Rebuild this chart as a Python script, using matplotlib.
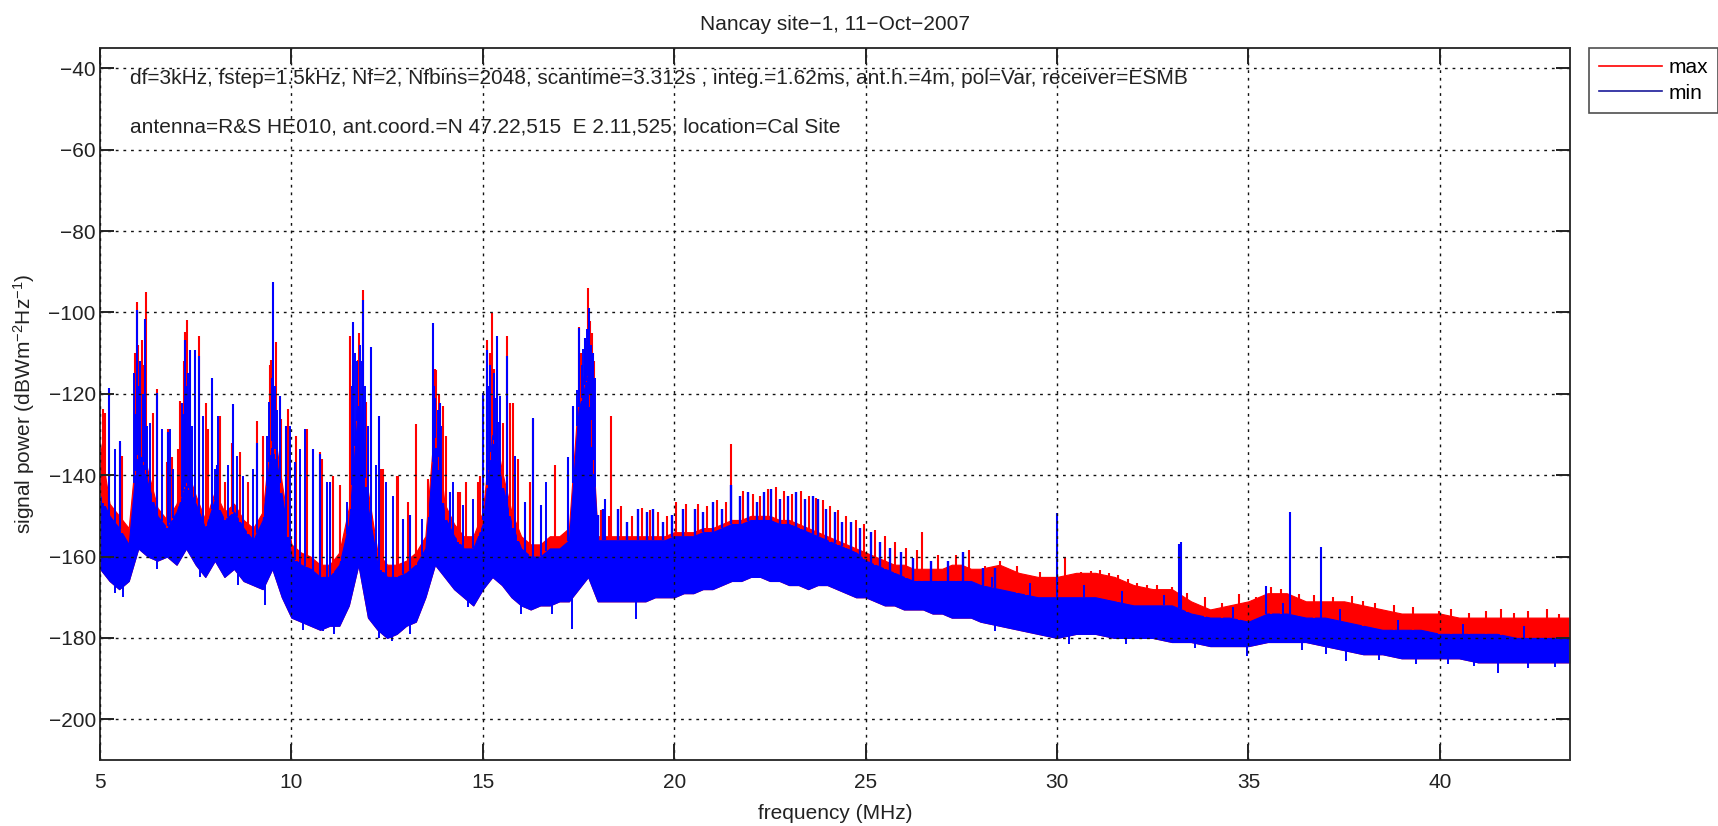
import numpy as np
import matplotlib
matplotlib.use("Agg")
import matplotlib.pyplot as plt
from matplotlib.lines import Line2D

plt.rcParams['font.family'] = ['Liberation Sans', 'DejaVu Sans']
plt.rcParams['font.size'] = 15
plt.rcParams['mathtext.default'] = 'regular'

# ---------------- data ----------------
freq = [5.00, 5.25, 5.50, 5.75, 6.00, 6.25, 6.50, 6.75, 7.00, 7.25,
        7.50, 7.75, 8.00, 8.25, 8.50, 8.75, 9.00, 9.25, 9.50, 9.75,
        10.00, 10.25, 10.50, 10.75, 11.00, 11.25, 11.50, 11.75, 12.00, 12.25,
        12.50, 12.75, 13.00, 13.25, 13.50, 13.75, 14.00, 14.25, 14.50, 14.75,
        15.00, 15.25, 15.50, 15.75, 16.00, 16.25, 16.50, 16.75, 17.00, 17.25,
        17.50, 17.75, 18.00, 18.25, 18.50, 18.75, 19.00, 19.25, 19.50, 19.75,
        20.00, 20.25, 20.50, 20.75, 21.00, 21.25, 21.50, 21.75, 22.00, 22.25,
        22.50, 22.75, 23.00, 23.25, 23.50, 23.75, 24.00, 24.25, 24.50, 24.75,
        25.00, 25.25, 25.50, 25.75, 26.00, 26.25, 26.50, 26.75, 27.00, 27.25,
        27.50, 27.75, 28.00,
        28.5, 29.0, 29.5, 30.0, 30.5, 31.0, 31.5, 32.0, 32.5, 33.0,
        33.5, 34.0, 34.5, 35.0, 35.5, 36.0, 36.5, 37.0, 37.5, 38.0,
        38.5, 39.0, 39.5, 40.0, 40.5, 41.0, 41.5, 42.0, 42.5, 43.0,
        43.4]

# upper envelope of the "max" trace
max_upper = [-132, -147, -150, -153, -128, -139, -148, -151, -147, -138,
             -145, -151, -144, -149, -147, -151, -153, -149, -126, -142,
             -157, -159, -160, -162, -162, -159, -148, -118, -144, -159,
             -162, -162, -161, -159, -155, -126, -147, -152, -155, -155,
             -149, -126, -139, -149, -155, -157, -157, -155, -155, -153,
             -120, -112, -155, -155, -155, -155, -155, -155, -155, -155,
             -154, -154, -154, -153, -153, -152, -151, -151, -150, -150,
             -150, -151, -151, -152, -153, -154, -155, -156, -157, -158,
             -159, -160, -161, -162, -162, -163, -163, -163, -163, -162,
             -162, -163, -163,
             -162, -164, -165, -165, -164, -164, -165, -167, -168, -168,
             -171, -173, -172, -171, -169, -169, -171, -171, -171, -172,
             -173, -174, -174, -174, -175, -175, -175, -175, -175, -175,
             -175]

# upper and lower envelope of the "min" trace
min_upper = [-145, -150, -153, -157, -132, -142, -150, -153, -149, -142,
             -147, -153, -146, -151, -149, -153, -156, -151, -130, -145,
             -160, -162, -163, -165, -165, -162, -152, -122, -148, -162,
             -165, -165, -164, -162, -158, -130, -150, -155, -158, -158,
             -152, -130, -142, -152, -158, -160, -160, -158, -158, -156,
             -124, -115, -156, -156, -156, -156, -156, -156, -156, -156,
             -155, -155, -155, -154, -154, -153, -152, -152, -151, -151,
             -151, -152, -152, -153, -154, -155, -156, -157, -158, -159,
             -161, -162, -163, -164, -165, -166, -166, -166, -166, -166,
             -166, -166, -167,
             -168, -169, -170, -170, -170, -170, -171, -172, -172, -172,
             -174, -175, -175, -176, -174, -174, -175, -175, -176, -177,
             -178, -178, -178, -179, -179, -179, -179, -180, -180, -180,
             -180]

min_lower = [-163, -166, -168, -166, -158, -160, -161, -160, -162, -158,
             -162, -165, -161, -165, -163, -166, -167, -168, -163, -170,
             -175, -176, -177, -178, -177, -177, -172, -162, -175, -178,
             -180, -179, -177, -176, -170, -162, -165, -168, -170, -172,
             -168, -165, -167, -170, -172, -173, -172, -172, -171, -171,
             -168, -165, -171, -171, -171, -171, -171, -171, -170, -170,
             -170, -169, -169, -168, -168, -167, -166, -166, -165, -165,
             -166, -166, -167, -167, -168, -167, -167, -168, -169, -170,
             -170, -171, -172, -172, -173, -173, -173, -174, -174, -175,
             -175, -175, -176,
             -177, -178, -179, -180, -179, -179, -180, -180, -180, -181,
             -181, -182, -182, -182, -181, -181, -181, -182, -183, -184,
             -184, -185, -185, -185, -185, -186, -186, -186, -186, -186,
             -186]

# strong carriers in the "max" trace
max_spike_f = [5.09, 5.52, 5.96, 6.09, 6.19, 6.39, 6.50, 6.78, 6.87, 7.09,
               7.22, 7.28, 7.59, 7.77, 8.13, 8.66, 9.09, 9.26, 9.46, 9.60,
               9.92, 10.40, 10.74, 11.27, 11.53, 11.75, 11.88, 12.40, 12.75, 13.25,
               13.57, 13.79, 13.96, 14.40, 14.92, 15.10, 15.25, 15.64, 15.79, 16.30,
               16.88, 17.52, 17.75, 17.86, 18.36, 21.49, 26.48, 30.22]
max_spike_db = [-123.8, -132.0, -97.4, -106.7, -95.0, -124.6, -118.9, -128.7, -135.6, -121.8,
                -104.7, -101.9, -105.9, -122.2, -125.4, -134.4, -126.7, -130.3, -111.6, -107.2,
                -123.8, -128.7, -134.4, -142.5, -105.9, -111.6, -94.6, -138.5, -140.1, -127.5,
                -140.9, -114.1, -123.0, -144.1, -140.1, -106.7, -100.2, -105.9, -122.2, -126.3,
                -137.6, -103.5, -94.1, -105.1, -125.4, -132.4, -153.9, -160.0]

# smaller peaks of the "max" trace
max_fine_f = [5.13, 5.57, 5.92, 6.00, 6.14, 6.74, 7.05, 7.20, 7.33, 7.83,
              8.26, 8.44, 8.87, 9.44, 9.58, 9.74, 10.13, 10.79, 11.09, 11.62,
              11.76, 11.95, 12.35, 12.79, 13.05, 13.74, 13.86, 14.05, 14.36, 14.57,
              14.88, 15.18, 15.30, 15.53, 15.70, 15.92, 16.23, 17.56, 17.69, 17.80,
              17.90,
              18.08, 18.30, 18.62, 18.90, 19.15, 19.38, 19.58, 19.82, 20.05, 20.30,
              20.62, 20.86, 21.12, 21.36, 21.80, 22.05, 22.25, 22.44, 22.65, 22.86,
              23.08, 23.30, 23.52, 23.70, 23.88, 24.08, 24.28, 24.50, 24.74, 24.95,
              25.25, 25.50, 25.78, 26.05, 26.35, 26.90, 27.35, 27.70, 28.13, 28.52,
              28.96, 29.20, 29.55, 29.90, 30.63, 30.90, 31.12, 31.35, 31.60, 31.85,
              32.10, 32.35, 32.60, 33.00, 33.40, 33.87, 34.30, 34.76, 35.20, 35.60,
              35.84, 36.33, 36.70, 37.20, 37.70, 38.00, 38.30, 38.80, 39.30, 39.97,
              40.30, 40.75, 41.20, 41.60, 41.93, 42.30, 42.80, 43.10]
max_fine_db = [-124.6, -135.2, -110.0, -108.0, -113.0, -136.8, -133.6, -112.0, -120.0, -128.7,
               -141.7, -132.0, -141.7, -113.0, -120.0, -126.3, -130.3, -136.0, -140.1, -113.0,
               -105.0, -122.0, -138.5, -140.1, -146.6, -114.0, -120.0, -130.3, -144.1, -141.7,
               -141.7, -110.0, -114.0, -127.1, -122.2, -136.0, -141.7, -110.0, -107.0, -102.0,
               -112.0,
               -148.5, -150.0, -147.5, -150.0, -148.0, -148.5, -149.0, -150.0, -146.5, -147.0,
               -147.0, -147.5, -146.0, -146.5, -144.0, -144.5, -145.0, -143.5, -143.0, -144.0,
               -144.5, -144.0, -145.0, -145.5, -146.0, -147.5, -148.5, -150.0, -151.0, -152.0,
               -153.5, -155.0, -156.5, -158.0, -158.5, -159.5, -159.5, -158.5, -162.4, -161.2,
               -162.4, -164.5, -163.7, -165.0, -163.7, -163.5, -163.3, -164.0, -164.5, -165.5,
               -166.5, -167.0, -166.9, -167.5, -169.0, -170.0, -171.5, -169.3, -170.0, -167.5,
               -168.0, -169.3, -169.5, -170.0, -169.8, -171.0, -171.4, -172.0, -172.5, -173.4,
               -173.0, -173.8, -173.5, -173.0, -173.8, -173.5, -173.0, -174.2]

# strong carriers in the "min" trace
min_spike_f = [5.24, 5.52, 5.97, 6.17, 6.50, 6.78, 7.22, 7.35, 7.48, 7.59,
               7.92, 8.05, 8.48, 9.09, 9.52, 9.70, 9.87, 10.09, 10.57, 10.74,
               11.00, 11.61, 11.88, 12.09, 12.29, 12.92, 13.09, 13.69, 13.88, 14.14,
               15.01, 15.11, 15.37, 15.64, 16.10, 16.30, 16.53, 17.23, 17.36, 17.52,
               17.67, 17.78, 17.88, 18.19, 30.00, 33.19, 33.24, 35.47, 36.09, 36.90]
min_spike_db = [-118.5, -131.5, -99.4, -101.5, -119.8, -129.5, -106.7, -109.2, -109.2, -110.8,
                -116.1, -137.6, -122.6, -132.0, -92.5, -120.6, -127.9, -136.8, -133.6, -134.8,
                -141.7, -102.3, -97.0, -108.4, -125.4, -150.7, -149.8, -102.7, -122.2, -144.1,
                -119.8, -109.2, -105.9, -110.8, -146.6, -125.9, -147.4, -135.6, -123.0, -103.9,
                -106.3, -99.0, -110.0, -145.8, -149.4, -157.0, -156.3, -167.3, -149.0, -157.6]

# smaller peaks of the "min" trace
min_fine_f = [5.39, 5.90, 5.93, 6.02, 6.05, 6.12, 6.22, 6.31, 6.61, 6.83,
              6.91, 7.13, 7.18, 7.25, 7.31, 7.40, 7.70, 8.00, 8.09, 8.35,
              8.57, 8.74, 9.00, 9.35, 9.42, 9.48, 9.56, 9.63, 9.96, 10.22,
              10.35, 10.92, 11.44, 11.58, 11.66, 11.71, 11.80, 11.84, 11.93, 12.00,
              12.22, 12.48, 12.66, 13.40, 13.72, 13.76, 13.82, 13.92, 14.23, 14.49,
              14.75, 15.15, 15.20, 15.28, 15.33, 15.42, 15.44, 15.84, 16.66, 17.47,
              17.58, 17.62, 17.70, 17.73, 17.82, 17.92,
              28.30, 29.30, 30.70, 31.70, 32.80, 34.60, 35.90, 37.40, 38.90, 40.60,
              42.20]
min_fine_db = [-133.6, -115.0, -125.0, -118.0, -112.0, -120.0, -128.0, -127.1, -128.7, -128.7,
               -138.5, -122.2, -125.0, -118.0, -115.0, -128.0, -125.4, -138.5, -125.4, -137.6,
               -135.2, -140.1, -138.5, -130.3, -122.0, -116.0, -118.0, -124.0, -127.9, -133.6,
               -128.7, -141.7, -146.6, -118.0, -110.0, -112.0, -108.0, -112.0, -118.0, -128.0,
               -137.6, -141.7, -145.0, -150.7, -118.0, -121.0, -124.0, -128.0, -141.7, -147.4,
               -145.8, -118.0, -113.0, -115.0, -121.0, -127.0, -120.6, -135.2, -141.7, -119.0,
               -113.0, -109.0, -112.0, -104.0, -108.0, -116.0,
               -165.0, -166.5, -167.0, -168.5, -169.5, -172.5, -171.5, -173.0, -175.5, -176.5,
               -177.0]

# comb of the "min" trace 18-28.5 MHz
min_comb_f = [18.01, 18.14, 18.54, 18.77, 19.06, 19.28, 19.45, 19.71, 19.93, 20.23,
              20.54, 20.75, 21.02, 21.26, 21.49, 21.71, 21.93, 22.15, 22.34, 22.54,
              22.76, 22.97, 23.19, 23.41, 23.63, 23.76, 23.97, 24.19, 24.37, 24.63,
              24.85, 25.15, 25.37, 25.63, 25.93, 26.24, 26.72, 27.15, 27.54, 28.07,
              28.37]
min_comb_db = [-149.8, -148.2, -148.2, -151.5, -148.2, -149.0, -148.2, -151.5, -149.8, -148.2,
               -148.2, -149.0, -146.6, -148.2, -142.5, -145.0, -144.1, -146.6, -144.1, -143.3,
               -145.8, -145.0, -144.1, -145.8, -145.0, -145.8, -148.2, -149.0, -151.5, -151.5,
               -153.1, -153.9, -156.3, -158.0, -158.8, -160.4, -161.2, -161.2, -158.8, -162.8,
               -162.8]

# deepest dips of the "min" trace
min_dip_f = [5.39, 5.60, 6.50, 7.60, 8.60, 9.31, 10.30, 10.83, 11.10, 12.30,
             12.62, 13.10, 14.60, 16.00, 16.80, 17.32, 19.00, 28.37, 30.30, 31.80,
             33.60, 34.95, 36.40, 37.02, 37.56, 38.40, 39.37, 40.20, 40.90, 41.52,
             42.30, 43.01]
min_dip_db = [-169.0, -170.0, -163.0, -165.0, -167.0, -171.8, -178.0, -178.3, -179.0, -180.0,
              -180.7, -179.0, -172.5, -174.0, -174.0, -177.9, -175.4, -178.3, -181.5, -181.5,
              -182.5, -184.4, -183.0, -184.0, -185.6, -185.5, -186.4, -186.5, -187.0, -188.5,
              -187.5, -187.2]

xticks = [5, 10, 15, 20, 25, 30, 35, 40]
yticks = [-200, -180, -160, -140, -120, -100, -80, -60, -40]
title = "Nancay site\u22121, 11\u2212Oct\u22122007"
info1 = ("df=3kHz, fstep=1.5kHz, Nf=2, Nfbins=2048, scantime=3.312s , integ.=1.62ms, "
         "ant.h.=4m, pol=Var, receiver=ESMB")
info2 = "antenna=R&S HE010, ant.coord.=N 47.22,515  E 2.11,525, location=Cal Site"

# ---------------- drawing ----------------
W, H = 1718, 826
fig = plt.figure(figsize=(W / 100, H / 100), dpi=100)
ax = fig.add_axes([100 / W, 66 / H, 1470 / W, 712 / H])

RED = (1, 0, 0)
BLUE = (0, 0, 1)
f = np.array(freq)
mu = np.array(min_upper)
ml = np.array(min_lower)

# max trace
ax.fill_between(f, ml, max_upper, color=RED, lw=0.8, edgecolor=RED)
ax.vlines(max_spike_f, np.interp(max_spike_f, f, mu), max_spike_db, color=RED, lw=1.5)
ax.vlines(max_fine_f, np.interp(max_fine_f, f, mu), max_fine_db, color=RED, lw=1.5)

# min trace
ax.fill_between(f, ml, mu, color=BLUE, lw=0.8, edgecolor=BLUE)
ax.vlines(min_spike_f, np.interp(min_spike_f, f, mu), min_spike_db, color=BLUE, lw=1.5)
ax.vlines(min_fine_f, np.interp(min_fine_f, f, mu), min_fine_db, color=BLUE, lw=1.4)
ax.vlines(min_comb_f, np.interp(min_comb_f, f, mu), min_comb_db, color=BLUE, lw=1.7)
ax.vlines(min_dip_f, min_dip_db, np.interp(min_dip_f, f, ml), color=BLUE, lw=1.4)

ax.set_xlim(5, 43.4)
ax.set_ylim(-210, -35)
ax.set_xticks(xticks)
ax.set_yticks(yticks)

ax.set_axisbelow(False)
ax.grid(True, color='#111111', linestyle=(0, (2, 3.5)), linewidth=1.0)

for sp in ax.spines.values():
    sp.set_linewidth(1.4)
    sp.set_color('#333333')
ax.tick_params(axis='both', direction='in', top=True, right=True, width=1.4,
               color='#222222', labelcolor='#222222', labelsize=15)
ax.tick_params(axis='x', length=11.5, pad=9)
ax.tick_params(axis='y', length=10.4, pad=3)

ax.set_title(title, pad=13, fontsize=15, color='#222222')
ax.set_xlabel("frequency (MHz)", fontsize=15, color='#222222')
ax.xaxis.set_label_coords(0.5, -0.062)
ax.set_ylabel("signal power (dBWm$^{\u22122}$Hz$^{\u22121}$)", fontsize=15, color='#222222')
ax.yaxis.set_label_coords(-0.043, 0.5)

ax.text(5.78, -42.4, info1, ha='left', va='center', fontsize=15, color='#222222')
ax.text(5.78, -54.3, info2, ha='left', va='center', fontsize=15, color='#222222')

handles = [Line2D([], [], color=RED, lw=1.2), Line2D([], [], color=(0.1, 0.1, 0.6), lw=1.2)]
leg = fig.legend(handles, ['max', 'min'], loc='upper left',
                 bbox_to_anchor=(1589 / W, 1 - 48 / H), bbox_transform=fig.transFigure,
                 frameon=True, fancybox=False, edgecolor='#222222', borderaxespad=0,
                 handlelength=3.0, handletextpad=0.3, borderpad=0.5, labelspacing=0.3,
                 fontsize=15)
leg.get_frame().set_linewidth(1.2)

fig.savefig("out.png", dpi=100)
